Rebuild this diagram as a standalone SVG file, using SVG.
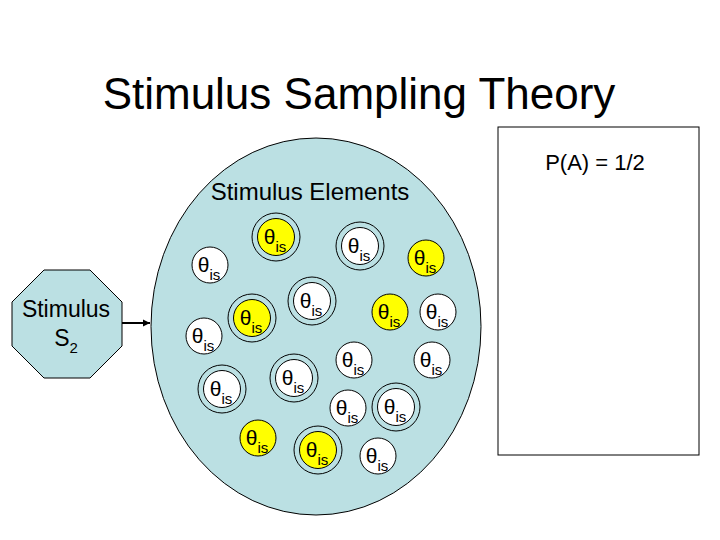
<svg xmlns="http://www.w3.org/2000/svg" width="720" height="540" viewBox="0 0 720 540">
<defs>
<style>
text{font-family:"Liberation Sans",Arial,sans-serif;fill:#000}
.bg{fill:#BBE0E3;stroke:#000;stroke-width:1}
.w{fill:#fff;stroke:#000;stroke-width:1}
.y{fill:#FFFF00;stroke:#000;stroke-width:1}
.ring{fill:none;stroke:#000;stroke-width:1}
.th{font-size:21px;text-anchor:middle}
.sub{font-size:15px}
</style>
<marker id="ah" markerWidth="8" markerHeight="8" refX="7" refY="4" orient="auto" markerUnits="userSpaceOnUse">
<path d="M0,0.5 L7,4 L0,7.5 Z" fill="#000"/>
</marker>
<g id="el">
<text class="th" x="-1" y="7">θ<tspan class="sub" dy="8">is</tspan></text>
</g>
</defs>
<rect width="720" height="540" fill="#fff"/>
<text x="359" y="109" font-size="44" text-anchor="middle">Stimulus Sampling Theory</text>
<g id="panel">
<rect x="498" y="127" width="201" height="328" fill="#fff" stroke="#000" stroke-width="1"/>
<text x="595" y="170" font-size="22" text-anchor="middle">P(A) = 1/2</text>
</g>
<g id="pool">
<ellipse class="bg" cx="316" cy="326.5" rx="165" ry="188.5"/>
<text x="310" y="200" font-size="24" text-anchor="middle">Stimulus Elements</text>
</g>
<g id="stimulus">
<polygon class="bg" points="44,270 90,270 122,302 122,346 90,378 44,378 12,346 12,302"/>
<text x="66" y="317" font-size="23" text-anchor="middle">Stimulus</text>
<text x="66" y="346" font-size="23" text-anchor="middle">S<tspan font-size="15" dy="7">2</tspan></text>
</g>
<g id="connectors">
<line x1="122" y1="323" x2="150" y2="323" stroke="#000" stroke-width="2" marker-end="url(#ah)"/>
</g>
<g id="elements">
<g id="e1" transform="translate(276,237)"><circle class="ring" r="24"/><circle class="y" r="18.5"/><use href="#el"/></g>
<g id="e2" transform="translate(360,246)"><circle class="ring" r="24"/><circle class="w" r="18.5"/><use href="#el"/></g>
<g id="e3" transform="translate(426,258)"><circle class="y" r="18"/><use href="#el"/></g>
<g id="e4" transform="translate(210,265)"><circle class="w" r="18"/><use href="#el"/></g>
<g id="e5" transform="translate(312,301)"><circle class="ring" r="24"/><circle class="w" r="18.5"/><use href="#el"/></g>
<g id="e6" transform="translate(252,318)"><circle class="ring" r="24"/><circle class="y" r="18.5"/><use href="#el"/></g>
<g id="e7" transform="translate(390,312)"><circle class="y" r="18"/><use href="#el"/></g>
<g id="e8" transform="translate(438,312)"><circle class="w" r="18"/><use href="#el"/></g>
<g id="e9" transform="translate(204,336)"><circle class="w" r="18"/><use href="#el"/></g>
<g id="e10" transform="translate(354,360)"><circle class="w" r="18"/><use href="#el"/></g>
<g id="e11" transform="translate(432,360)"><circle class="w" r="18"/><use href="#el"/></g>
<g id="e12" transform="translate(222,389)"><circle class="ring" r="24"/><circle class="w" r="18.5"/><use href="#el"/></g>
<g id="e13" transform="translate(294,378)"><circle class="ring" r="24"/><circle class="w" r="18.5"/><use href="#el"/></g>
<g id="e14" transform="translate(348,408)"><circle class="w" r="18"/><use href="#el"/></g>
<g id="e15" transform="translate(396,407)"><circle class="ring" r="24"/><circle class="w" r="18.5"/><use href="#el"/></g>
<g id="e16" transform="translate(258,438)"><circle class="y" r="18"/><use href="#el"/></g>
<g id="e17" transform="translate(318,450)"><circle class="ring" r="24"/><circle class="y" r="18.5"/><use href="#el"/></g>
<g id="e18" transform="translate(378,456)"><circle class="w" r="18"/><use href="#el"/></g>
</g>
</svg>
